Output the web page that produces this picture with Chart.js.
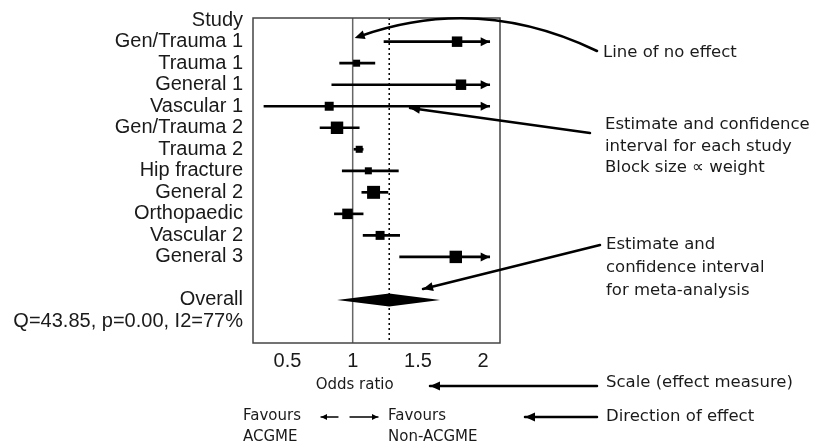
<!DOCTYPE html>
<html>
<head>
<meta charset="utf-8">
<script src="https://cdn.jsdelivr.net/npm/chart.js@4"></script>
<style>
  body { margin: 0; background: #fff; }
  #forest { display: block; }
</style>
</head>
<body>
<canvas id="forest" width="815" height="444"></canvas>
<script>
// study data
const studies = ["Gen/Trauma 1", "Trauma 1", "General 1", "Vascular 1", "Gen/Trauma 2", "Trauma 2",
                 "Hip fracture", "General 2", "Orthopaedic", "Vascular 2", "General 3"];
const oddsRatio = [1.80, 1.03, 1.83, 0.82, 0.88, 1.05, 1.12, 1.16, 0.96, 1.21, 1.79];
const lowerCI   = [1.24, 0.90, 0.84, 0.32, 0.75, 1.01, 0.92, 1.07, 0.86, 1.08, 1.36];
const upperCI   = [2.60, 1.17, 4.00, 2.16, 1.05, 1.08, 1.35, 1.27, 1.08, 1.36, 2.37];
const weights   = [9.7, 6.5, 9.7, 8.3, 11.5, 6.5, 6.5, 12.0, 9.7, 8.3, 11.5];
const overallOR = [0.88, 1.28, 1.67]; // lower, estimate, upper
const heterogeneity = "Q=43.85, p=0.00, I2=77%";
const xTicks = [0.5, 1, 1.5, 2];
const xRange = [0.236, 2.129];
const noEffect = 1;
const axisCap = 2.05; // intervals past this end in an arrow

// row layout: 0 = header, 1..11 studies, 13 overall, 14 heterogeneity
const rowLabels = { 0: "Study", 13: "Overall", 14: heterogeneity };
studies.forEach((s, i) => { rowLabels[i + 1] = s; });
const rowValues = Object.keys(rowLabels).map(Number);
const overallRow = 13;

const labelFont = '"Liberation Sans", Arial, sans-serif';
const noteFont = '"DejaVu Sans", Verdana, sans-serif';
const ink = "#1a1a1a";

function arrowHead(ctx, x, y, fromX, fromY, len, half) {
    const a = Math.atan2(y - fromY, x - fromX);
    const c = Math.cos(a), s = Math.sin(a);
    ctx.beginPath();
    ctx.moveTo(x, y);
    ctx.lineTo(x - len * c + half * s, y - len * s - half * c);
    ctx.lineTo(x - len * c - half * s, y - len * s + half * c);
    ctx.closePath();
    ctx.fill();
}

function arrowLine(ctx, x1, y1, x2, y2, width, len, half) {
    ctx.lineWidth = width;
    ctx.beginPath();
    ctx.moveTo(x1, y1);
    ctx.lineTo(x2, y2);
    ctx.stroke();
    arrowHead(ctx, x2, y2, x1, y1, len, half);
}

const forestExtras = {
    id: "forestExtras",
    afterDatasetsDraw(chart) {
        const ctx = chart.ctx;
        const x = chart.scales.x, y = chart.scales.y;
        const area = chart.chartArea;
        ctx.save();
        ctx.fillStyle = "#000";
        ctx.strokeStyle = "#000";

        // arrows on intervals running off the scale
        upperCI.forEach((u, i) => {
            if (u > axisCap) {
                const px = x.getPixelForValue(axisCap);
                const py = y.getPixelForValue(i + 1);
                arrowHead(ctx, px, py, px - 10, py, 9, 4.5);
            }
        });

        // pooled estimate diamond
        const dy = 6.5;
        const cy = y.getPixelForValue(overallRow);
        ctx.beginPath();
        ctx.moveTo(x.getPixelForValue(overallOR[0]), cy);
        ctx.lineTo(x.getPixelForValue(overallOR[1]), cy - dy);
        ctx.lineTo(x.getPixelForValue(overallOR[2]), cy);
        ctx.lineTo(x.getPixelForValue(overallOR[1]), cy + dy);
        ctx.closePath();
        ctx.fill();

        // plot frame
        ctx.strokeStyle = "#444";
        ctx.lineWidth = 1.5;
        ctx.strokeRect(area.left, area.top, area.right - area.left, area.bottom - area.top);
        ctx.restore();
    },
    afterDraw(chart) {
        const ctx = chart.ctx;
        const x = chart.scales.x;
        ctx.save();
        ctx.fillStyle = "#000";
        ctx.strokeStyle = "#000";
        ctx.lineCap = "round";

        // "line of no effect" curved pointer
        const tipX = x.getPixelForValue(noEffect) + 2, tipY = 38;
        ctx.lineWidth = 2.5;
        ctx.beginPath();
        ctx.moveTo(597, 51);
        ctx.bezierCurveTo(520, 14, 440, 8, tipX + 6, tipY - 2);
        ctx.stroke();
        arrowHead(ctx, tipX, tipY, tipX + 12, tipY - 4, 10, 4.5);

        // study estimate pointer
        arrowLine(ctx, 590, 133, 410, 108, 2.5, 10, 4.5);
        // meta-analysis pointer
        arrowLine(ctx, 600, 245, 423, 289, 2.5, 10, 4.5);
        // scale pointer
        arrowLine(ctx, 597, 386, 430, 386, 2.5, 10, 4.5);
        // direction pointer
        arrowLine(ctx, 597, 417, 525, 417, 2.5, 10, 4.5);
        // favours arrows
        arrowLine(ctx, 338, 417, 321, 417, 1.3, 6, 3);
        arrowLine(ctx, 350, 417, 378, 417, 1.3, 6, 3);

        // notes
        ctx.fillStyle = ink;
        ctx.textBaseline = "middle";
        ctx.textAlign = "left";
        ctx.font = "16.5px " + noteFont;
        ctx.fillText("Line of no effect", 603, 53);
        ctx.fillText("Estimate and confidence", 605, 125);
        ctx.fillText("interval for each study", 605, 147);
        ctx.fillText("Block size \u221D weight", 605, 168);
        ctx.fillText("Estimate and", 606, 245);
        ctx.fillText("confidence interval", 606, 268);
        ctx.fillText("for meta-analysis", 606, 291);
        ctx.fillText("Scale (effect measure)", 606, 383);
        ctx.fillText("Direction of effect", 606, 417);

        ctx.font = "15px " + noteFont;
        ctx.textAlign = "center";
        ctx.fillText("Odds ratio", x.getPixelForValue(noEffect) + 2, 385);
        ctx.textAlign = "left";
        ctx.fillText("Favours", 243, 416);
        ctx.fillText("ACGME", 243, 437);
        ctx.fillText("Favours", 388, 416);
        ctx.fillText("Non-ACGME", 388, 437);
        ctx.restore();
    }
};

const ctx = document.getElementById("forest");
new Chart(ctx, {
    type: "scatter",
    data: {
        datasets: [
            {
                // study point estimates, block size from weight
                type: "scatter",
                data: oddsRatio.map((v, i) => ({ x: v, y: i + 1 })),
                pointStyle: "rect",
                pointRadius: weights.map(w => (w * 1.08) / Math.SQRT2),
                backgroundColor: "#000",
                borderWidth: 0,
                order: 0
            },
            {
                // confidence intervals
                type: "bar",
                indexAxis: "y",
                data: lowerCI.map((lo, i) => ({ x: [lo, Math.min(upperCI[i], axisCap)], y: i + 1 })),
                backgroundColor: "#000",
                barThickness: 2,
                borderWidth: 0,
                order: 1
            },
            {
                // line of no effect
                type: "scatter",
                showLine: true,
                data: [{ x: noEffect, y: -0.1 }, { x: noEffect, y: 15 }],
                borderColor: "#666",
                borderWidth: 1.5,
                pointRadius: 0,
                order: 3
            },
            {
                // pooled estimate reference
                type: "scatter",
                showLine: true,
                data: [{ x: overallOR[1], y: -0.1 }, { x: overallOR[1], y: 15 }],
                borderColor: "#000",
                borderWidth: 1.5,
                borderDash: [2, 3],
                pointRadius: 0,
                order: 3
            }
        ]
    },
    options: {
        responsive: false,
        animation: false,
        layout: { padding: { left: 0, right: 315, top: 18, bottom: 0 } },
        plugins: { legend: { display: false }, tooltip: { enabled: false } },
        scales: {
            x: {
                type: "linear",
                min: xRange[0],
                max: xRange[1],
                offset: false,
                grid: { display: false, drawTicks: false, offset: false },
                border: { display: false },
                afterBuildTicks: scale => { scale.ticks = xTicks.map(v => ({ value: v })); },
                afterFit: scale => { scale.height = 101; },
                ticks: {
                    padding: 6,
                    color: ink,
                    font: { family: labelFont, size: 20 },
                    callback: v => String(v)
                }
            },
            y: {
                type: "linear",
                reverse: true,
                min: -0.1,
                max: 15,
                offset: false,
                grid: { display: false, drawTicks: false, offset: false },
                border: { display: false },
                afterBuildTicks: scale => { scale.ticks = rowValues.map(v => ({ value: v })); },
                afterFit: scale => {
                    scale.width = 253;
                    scale.paddingTop = 0;
                    scale.paddingBottom = 0;
                },
                ticks: {
                    autoSkip: false,
                    padding: 10,
                    color: ink,
                    font: { family: labelFont, size: 20 },
                    callback: v => rowLabels[v] || ""
                }
            }
        }
    },
    plugins: [forestExtras]
});
</script>
</body>
</html>
